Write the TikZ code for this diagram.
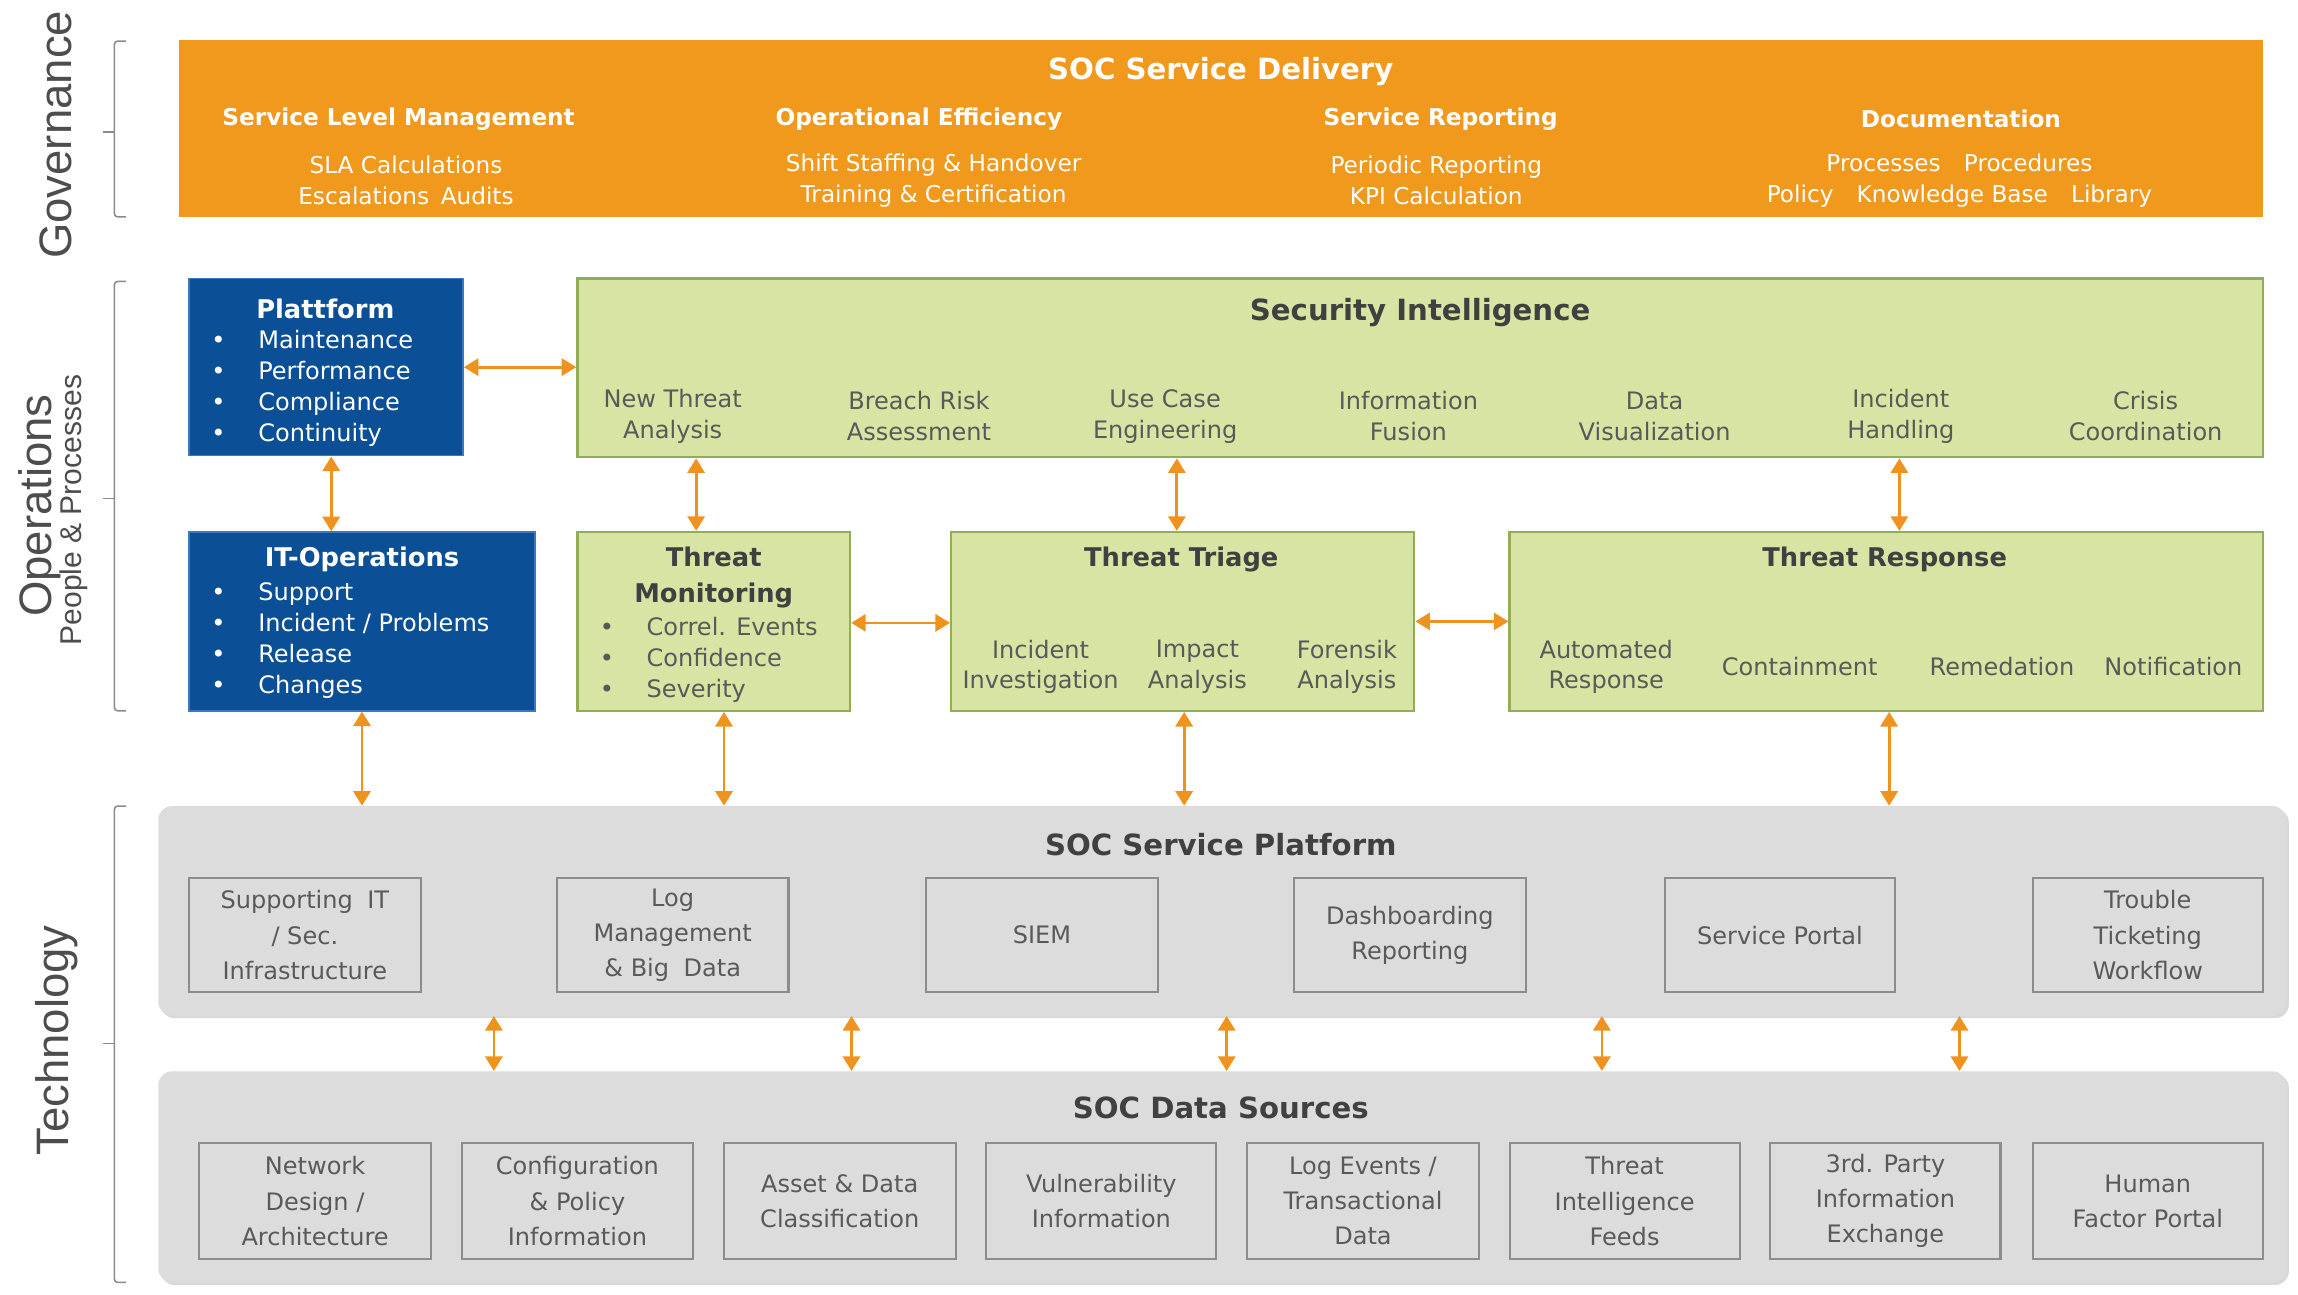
\documentclass[tikz,border=0pt]{standalone}
\usepackage{fontspec}
\setmainfont{DejaVu Sans}
\newfontfamily\sidefont{Liberation Sans}
\usetikzlibrary{arrows.meta,shadows}
\definecolor{orng}{HTML}{F0991C}
\definecolor{arrc}{HTML}{F0931E}
\definecolor{blu}{HTML}{0B4F96}
\definecolor{bluedge}{HTML}{3B78C0}
\definecolor{grn}{HTML}{D7E4A3}
\definecolor{grnedge}{HTML}{93AD55}
\definecolor{gry}{HTML}{DCDCDC}
\definecolor{gryedge}{HTML}{8C8C8C}
\definecolor{txtg}{HTML}{595959}
\definecolor{ttlg}{HTML}{404040}
\definecolor{brk}{HTML}{8A8A8A}
\definecolor{sidec}{HTML}{4D4D4D}
\newcommand{\mkbox}[6]{\node[#2, minimum width={(#5-#3)*0.03cm}, minimum height={(#6-#4)*0.03cm}, inner sep=0pt] (#1) at ({(#3+#5)/2},{(#4+#6)/2}) {};}
\newcommand{\bl}[1]{\makebox[0.96cm][l]{•}#1}
\begin{document}
\begin{tikzpicture}[x=0.03cm,y=-0.03cm,
  orangebox/.style={fill=orng, draw=none},
  bluebox/.style={fill=blu, draw=bluedge, line width=0.8pt},
  greenbox/.style={fill=grn, draw=grnedge, line width=1.3pt},
  panel/.style={fill=gry, draw=none, rounded corners=8pt, drop shadow={shadow xshift=1.5pt,shadow yshift=-1.5pt,fill=black!30,opacity=0.5}},
  cell/.style={fill=gry, draw=gryedge, line width=1.2pt},
  arr/.style={arrc, line width=1.6pt, {Triangle[length=8.5pt,width=10pt]}-{Triangle[length=8.5pt,width=10pt]}},
  bracket/.style={brk, line width=0.9pt, rounded corners=2pt},
  wtitle/.style={text=white, font=\fontsize{17}{20}\selectfont\bfseries},
  whead/.style={text=white, font=\fontsize{13.5}{17}\selectfont\bfseries},
  wsub/.style={text=white, font=\fontsize{13.5}{18}\selectfont, align=center},
  btitle/.style={text=white, font=\fontsize{15}{18}\selectfont\bfseries},
  bitem/.style={text=white, font=\fontsize{14}{18}\selectfont, align=left, anchor=west, inner sep=0pt},
  gtitle/.style={text=ttlg, font=\fontsize{15}{20.5}\selectfont\bfseries, align=center},
  stitle/.style={text=ttlg, font=\fontsize{17}{20}\selectfont\bfseries},
  gitem/.style={text=txtg, font=\fontsize{14}{18}\selectfont, align=center},
  glist/.style={text=txtg, font=\fontsize{14}{18}\selectfont, align=left, anchor=west, inner sep=0pt},
  citem/.style={text=txtg, font=\fontsize{14}{20.5}\selectfont, align=center},
  side/.style={text=sidec, font=\sidefont\fontsize{26.5}{30}\selectfont, rotate=90},
  sidesmall/.style={text=sidec, font=\sidefont\fontsize{17.5}{20}\selectfont, rotate=90}
]
\useasboundingbox (0,0) rectangle (1568,883);

% side labels and brackets
\node[side] (gov) at (38,92) {Governance};
\node[side] (ops) at (27,345) {Operations};
\node[sidesmall] (ppl) at (50,348) {People \& Processes};
\node[side] (tech) at (39,710) {Technology};
\draw[bracket] (86,28) -- (78,28) -- (78,148) -- (86,148);
\draw[bracket] (78,90) -- (70,90);
\draw[bracket] (86,192) -- (78,192) -- (78,485) -- (86,485);
\draw[bracket] (78,340) -- (70,340);
\draw[bracket] (86,550) -- (78,550) -- (78,875) -- (86,875);
\draw[bracket] (78,712) -- (70,712);

% governance
\mkbox{sd}{orangebox}{122}{27}{1544}{148}
\node[wtitle] (sdT) at (833,49) {SOC Service Delivery};
\node[whead] (h1) at (272,81) {Service Level Management};
\node[whead] (h2) at (627,81) {Operational Efficiency};
\node[whead] (h3) at (983,81) {Service Reporting};
\node[whead] (h4) at (1338,81) {Documentation};
\node[wsub] (s1) at (277,123) {SLA Calculations\\Escalations\hspace{0.5em}Audits};
\node[wsub] (s2) at (637,123) {Shift Staffing \& Handover\\Training \& Certification};
\node[wsub] (s3) at (980,123) {Periodic Reporting\\KPI Calculation};
\node[wsub] (s4) at (1337,123) {Processes\hspace{1em}Procedures\\Policy\hspace{1em}Knowledge Base\hspace{1em}Library};

% operations
\mkbox{plat}{bluebox}{129}{190}{316}{311}
\node[btitle] (platT) at (222,211) {Plattform};
\node[bitem] (platL) at (144,265) {\bl{Maintenance}\\\bl{Performance}\\\bl{Compliance}\\\bl{Continuity}};
\mkbox{itops}{bluebox}{129}{363}{365}{485}
\node[btitle] (itopsT) at (247,382) {IT-Operations};
\node[bitem] (itopsL) at (144,437) {\bl{Support}\\\bl{Incident / Problems}\\\bl{Release}\\\bl{Changes}};

\mkbox{secint}{greenbox}{394}{190}{1544}{312}
\node[stitle] (secintT) at (969,213) {Security Intelligence};
\node[gitem] (si1) at (459,284) {New Threat\\Analysis};
\node[gitem] (si2) at (627,284) {Breach Risk\\Assessment};
\node[gitem] (si3) at (795,284) {Use Case\\Engineering};
\node[gitem] (si4) at (961,284) {Information\\Fusion};
\node[gitem] (si5) at (1129,284) {Data\\Visualization};
\node[gitem] (si6) at (1297,284) {Incident\\Handling};
\node[gitem] (si7) at (1464,284) {Crisis\\Coordination};

\mkbox{tmon}{greenbox}{394}{363}{580}{485}
\node[gtitle] (tmonT) at (487,394) {Threat\\Monitoring};
\node[glist] (tmonL) at (409,450) {\bl{Correl. Events}\\\bl{Confidence}\\\bl{Severity}};

\mkbox{ttri}{greenbox}{649}{363}{965}{485}
\node[gtitle] (ttriT) at (806,382) {Threat Triage};
\node[gitem] (tt1) at (710,455) {Incident\\Investigation};
\node[gitem] (tt2) at (817,455) {Impact\\Analysis};
\node[gitem] (tt3) at (919,455) {Forensik\\Analysis};

\mkbox{tresp}{greenbox}{1030}{363}{1544}{485}
\node[gtitle] (trespT) at (1286,382) {Threat Response};
\node[gitem] (tr1) at (1096,455) {Automated\\Response};
\node[gitem] (tr2) at (1228,455) {Containment};
\node[gitem] (tr3) at (1366,455) {Remedation};
\node[gitem] (tr4) at (1483,455) {Notification};

% technology
\mkbox{ssp}{panel}{108}{550}{1560}{693}
\node[stitle] (sspT) at (833,576) {SOC Service Platform};
\mkbox{c1}{cell}{129}{599}{287}{677}
\node[citem] (c1t) at (c1) {Supporting\hspace{0.6em}IT\\/ Sec.\\Infrastructure};
\mkbox{c2}{cell}{380}{599}{538}{677}
\node[citem] (c2t) at (c2) {Log\\Management\\\& Big\hspace{0.6em}Data};
\mkbox{c3}{cell}{632}{599}{790}{677}
\node[citem] (c3t) at (c3) {SIEM};
\mkbox{c4}{cell}{883}{599}{1041}{677}
\node[citem] (c4t) at (c4) {Dashboarding\\Reporting};
\mkbox{c5}{cell}{1136}{599}{1293}{677}
\node[citem] (c5t) at (c5) {Service Portal};
\mkbox{c6}{cell}{1387}{599}{1544}{677}
\node[citem] (c6t) at (c6) {Trouble\\Ticketing\\Workflow};

\mkbox{sds}{panel}{108}{731}{1560}{875}
\node[stitle] (sdsT) at (833,756) {SOC Data Sources};
\mkbox{d1}{cell}{136}{780}{294}{859}
\node[citem] (d1t) at (d1) {Network\\Design /\\Architecture};
\mkbox{d2}{cell}{315}{780}{473}{859}
\node[citem] (d2t) at (d2) {Configuration\\\& Policy\\Information};
\mkbox{d3}{cell}{494}{780}{652}{859}
\node[citem] (d3t) at (d3) {Asset \& Data\\Classification};
\mkbox{d4}{cell}{673}{780}{830}{859}
\node[citem] (d4t) at (d4) {Vulnerability\\Information};
\mkbox{d5}{cell}{851}{780}{1009}{859}
\node[citem] (d5t) at (d5) {Log Events /\\Transactional\\Data};
\mkbox{d6}{cell}{1030}{780}{1187}{859}
\node[citem] (d6t) at (d6) {Threat\\Intelligence\\Feeds};
\mkbox{d7}{cell}{1208}{780}{1365}{859}
\node[citem] (d7t) at (d7) {3rd. Party\\Information\\Exchange};
\mkbox{d8}{cell}{1387}{780}{1544}{859}
\node[citem] (d8t) at (d8) {Human\\Factor Portal};

% arrows
\draw[arr] (plat.east) -- (plat.east -| secint.west);
\draw[arr] (plat.south -| 226,0) -- (itops.north -| 226,0);
\draw[arr] (secint.south -| 475,0) -- (tmon.north -| 475,0);
\draw[arr] (secint.south -| 803,0) -- (ttri.north -| 803,0);
\draw[arr] (secint.south -| 1296,0) -- (tresp.north -| 1296,0);
\draw[arr] (tmon.east |- 0,425) -- (ttri.west |- 0,425);
\draw[arr] (ttri.east |- 0,424) -- (tresp.west |- 0,424);
\draw[arr] (itops.south -| 247,0) -- (ssp.north -| 247,0);
\draw[arr] (tmon.south -| 494,0) -- (ssp.north -| 494,0);
\draw[arr] (ttri.south -| 808,0) -- (ssp.north -| 808,0);
\draw[arr] (tresp.south -| 1289,0) -- (ssp.north -| 1289,0);
\foreach \xx in {337,581,837,1093,1337}
  \draw[arr] (ssp.south -| \xx,0) -- (sds.north -| \xx,0);
\end{tikzpicture}
\end{document}
